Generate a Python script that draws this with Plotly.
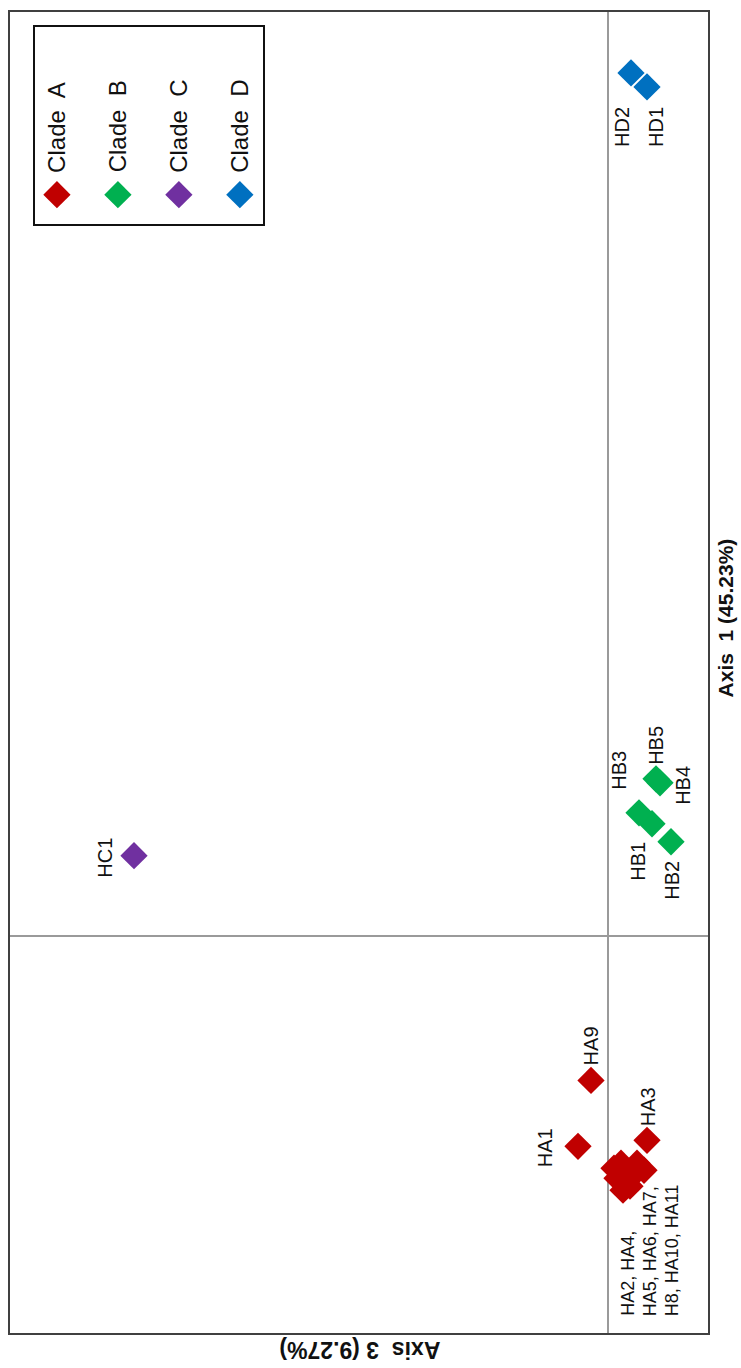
import plotly.graph_objects as go

# PCoA coordinates per haplotype: (Axis 3, Axis 1)
clade_a_names = ["HA1", "HA2", "HA3", "HA4", "HA5", "HA6", "HA7", "H8", "HA9", "HA10", "HA11"]
clade_a_axis3 = [0.030, -0.013, -0.039, -0.029, -0.009, -0.024, -0.036, -0.015, 0.017, -0.022, -0.006]
clade_a_axis1 = [-0.211, -0.228, -0.205, -0.228, -0.243, -0.241, -0.235, -0.255, -0.145, -0.251, -0.233]

clade_b_names = ["HB1", "HB2", "HB3", "HB4", "HB5"]
clade_b_axis3 = [-0.044, -0.063, -0.031, -0.052, -0.048]
clade_b_axis1 = [0.112, 0.094, 0.123, 0.153, 0.157]

clade_c_names = ["HC1"]
clade_c_axis3 = [0.474]
clade_c_axis1 = [0.080]

clade_d_names = ["HD1", "HD2"]
clade_d_axis3 = [-0.039, -0.023]
clade_d_axis1 = [0.850, 0.864]

clade_labels = ["Clade  A", "Clade  B", "Clade  C", "Clade  D"]
clade_colors = ["#C00000", "#00B050", "#7030A0", "#0070C0"]

axis1_title = "Axis  1 (45.23%)"
axis3_title = "Axis  3 (9.27%)"

# grouped label for the overlapping Clade A points
group_lines = ["HA2, HA4,", "HA5, HA6, HA7,", "H8, HA10, HA11"]

FONT = "Arial, Liberation Sans, sans-serif"

clades = [
    (clade_a_names, clade_a_axis3, clade_a_axis1),
    (clade_b_names, clade_b_axis3, clade_b_axis1),
    (clade_c_names, clade_c_axis3, clade_c_axis1),
    (clade_d_names, clade_d_axis3, clade_d_axis1),
]

# pixel offsets of individual labels from their markers
label_offsets = {
    "HA1": (-33, -2), "HA9": (0, 34), "HA3": (1, 33),
    "HC1": (-29, -2),
    "HB3": (-20, 42), "HB1": (-14, -38), "HB2": (1, -39),
    "HB5": (0, 33), "HB4": (23, -3),
    "HD2": (-9, -54), "HD1": (9, -40),
}

fig = go.Figure()
annotations = []

for (names, a3, a1), color in zip(clades, clade_colors):
    fig.add_trace(go.Scatter(
        x=a3, y=a1, mode="markers", showlegend=False,
        marker=dict(symbol="diamond", size=21, color=color, line=dict(width=0)),
        hoverinfo="text", text=names, cliponaxis=False,
    ))
    for n, x, y in zip(names, a3, a1):
        if n in label_offsets:
            dx, dy = label_offsets[n]
            annotations.append(dict(
                x=x, y=y, xref="x", yref="y", text=n, showarrow=False,
                textangle=-90, xanchor="center", yanchor="middle",
                xshift=dx, yshift=dy, font=dict(family=FONT, size=20, color="#111111"),
            ))

# stacked label for the dense cluster, anchored on H8
i8 = clade_a_names.index("H8")
for k, line in enumerate(group_lines):
    annotations.append(dict(
        x=clade_a_axis3[i8], y=clade_a_axis1[i8], xref="x", yref="y",
        text=line, showarrow=False, textangle=-90,
        xanchor="center", yanchor="bottom",
        xshift=5 + 22 * k, yshift=-128,
        font=dict(family=FONT, size=18, color="#111111"),
    ))

# rotated legend drawn in its own small axes
fig.add_trace(go.Scatter(
    x=list(range(len(clade_labels))), y=[0.147] * len(clade_labels),
    xaxis="x2", yaxis="y2", mode="markers", showlegend=False, hoverinfo="skip",
    marker=dict(symbol="diamond", size=21, color=clade_colors, line=dict(width=0)),
))
for i, lab in enumerate(clade_labels):
    annotations.append(dict(
        x=i, y=0.25, xref="x2", yref="y2", text=lab, showarrow=False,
        textangle=-90, xanchor="center", yanchor="bottom",
        font=dict(family=FONT, size=24, color="#111111"),
    ))

# axis titles
annotations.append(dict(
    x=1.0245, y=0.541, xref="paper", yref="paper", text="<b>%s</b>" % axis1_title,
    showarrow=False, textangle=-90, xanchor="center", yanchor="middle",
    font=dict(family=FONT, size=21, color="#111111"),
))
annotations.append(dict(
    x=0.501, y=-0.0128, xref="paper", yref="paper", text="<b>%s</b>" % axis3_title,
    showarrow=False, textangle=180, xanchor="center", yanchor="middle",
    font=dict(family=FONT, size=23, color="#111111"),
))

plain = dict(showgrid=False, showticklabels=False, ticks="", title=None)

fig.update_layout(
    width=741, height=1368,
    margin=dict(l=10, r=33, t=10, b=35),
    paper_bgcolor="white", plot_bgcolor="white",
    xaxis=dict(range=[0.598, -0.100], zeroline=True, zerolinecolor="#9a9a9a",
               zerolinewidth=1.5, showline=True, mirror=True, linecolor="#404040",
               linewidth=2, **plain),
    yaxis=dict(range=[-0.398, 0.925], zeroline=True, zerolinecolor="#9a9a9a",
               zerolinewidth=1.5, showline=True, mirror=True, linecolor="#404040",
               linewidth=2, **plain),
    xaxis2=dict(domain=[0.0358, 0.3625], anchor="y2", range=[-0.36, 3.38],
                zeroline=False, showline=True, mirror=True, linecolor="#111111",
                linewidth=1.5, **plain),
    yaxis2=dict(domain=[0.8398, 0.9887], anchor="x2", range=[0, 1],
                zeroline=False, showline=True, mirror=True, linecolor="#111111",
                linewidth=1.5, **plain),
    annotations=annotations,
    showlegend=False,
)

fig.write_html("out.html")
